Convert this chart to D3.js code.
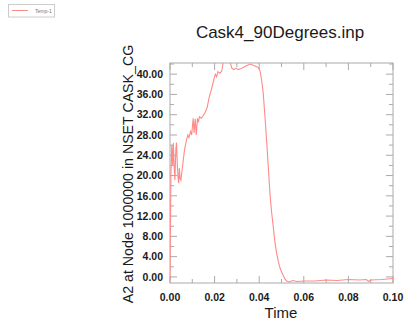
<!DOCTYPE html>
<html><head><meta charset="utf-8">
<script src="https://cdn.jsdelivr.net/npm/d3@7/dist/d3.min.js"></script>
<style>body{margin:0;background:#fff;}svg{display:block;}</style>
</head><body>
<svg id="c" width="409" height="328"></svg>
<script>
const times = [0.0000,0.0004,0.0008,0.0012,0.0015,0.0019,0.0022,0.0026,0.0029,0.0033,0.0036,0.0039,0.0042,0.0045,0.0049,0.0054,0.0058,0.0065,0.0071,0.0080,0.0085,0.0092,0.0097,0.0104,0.0108,0.0113,0.0118,0.0123,0.0127,0.0132,0.0140,0.0149,0.0158,0.0167,0.0176,0.0186,0.0194,0.0203,0.0209,0.0215,0.0224,0.0232,0.0238,0.0245,0.0254,0.0262,0.0269,0.0277,0.0287,0.0296,0.0306,0.0318,0.0329,0.0345,0.0359,0.0370,0.0381,0.0396,0.0404,0.0411,0.0418,0.0426,0.0434,0.0441,0.0448,0.0455,0.0463,0.0470,0.0478,0.0486,0.0493,0.0500,0.0508,0.0515,0.0523,0.0535,0.0550,0.0570,0.0600,0.0650,0.0700,0.0750,0.0800,0.0850,0.0880,0.0890,0.0900,0.0950,0.1000];
const temp1 = [-0.5,20.0,26.0,22.0,26.4,21.5,19.1,25.0,26.5,22.0,19.5,18.5,21.5,19.5,19.1,21.0,22.5,25.0,26.4,28.0,27.5,28.7,28.0,31.3,28.4,31.2,28.0,31.3,30.5,31.6,31.3,31.8,32.5,33.5,35.5,37.0,38.5,40.0,39.5,40.5,40.2,40.6,42.2,43.0,42.8,42.4,42.5,41.2,40.9,41.2,40.9,41.1,41.3,41.7,42.0,41.8,41.6,41.3,40.6,38.8,36.3,31.5,26.4,21.5,16.6,13.0,9.9,7.0,4.7,3.0,1.8,1.0,0.3,-0.4,-0.8,-1.0,-0.7,-0.9,-0.8,-0.8,-0.6,-0.7,-0.5,-0.6,-0.5,-0.9,-0.6,-0.5,-0.3];
const xTicks = [0.00,0.02,0.04,0.06,0.08,0.10];
const yTicks = [0,4,8,12,16,20,24,28,32,36,40];
const title = "Cask4_90Degrees.inp";
const xTitle = "Time";
const yTitle = "A2 at Node 1000000 in NSET CASK_CG";
const seriesName = "Temp-1";

const svg = d3.select("#c");
const L=170,R=393,T=63,B=283;
const x = d3.scaleLinear().domain([0,0.1]).range([L,R]);
const y = d3.scaleLinear().domain([-1.2,42.2]).range([B,T]);
const axisCol="#aaa", txt="#1a1a1a", font="'Liberation Sans', Arial, sans-serif";
const lineCol="#ff8a8a";

// frame
svg.append("rect").attr("x",L).attr("y",T).attr("width",R-L).attr("height",B-T)
  .attr("fill","none").attr("stroke",axisCol).attr("stroke-width",1);

const xMinor = d3.range(0,0.1001,0.01);
const yMinor = d3.range(0,42.01,2);
function xt(sel, inward, ypos){
  sel.selectAll(null).data(xMinor).enter().append("line")
   .attr("x1",d=>x(d)).attr("x2",d=>x(d)).attr("y1",ypos)
   .attr("y2",(d,i)=>ypos+inward*(i%2===0?7:4))
   .attr("stroke",axisCol);
}
xt(svg.append("g"),-1,B); xt(svg.append("g"),1,T);
function yt(sel, inward, xpos){
  sel.selectAll(null).data(yMinor).enter().append("line")
   .attr("y1",d=>y(d)).attr("y2",d=>y(d)).attr("x1",xpos)
   .attr("x2",(d,i)=>xpos+inward*(i%2===0?7:4))
   .attr("stroke",axisCol);
}
yt(svg.append("g"),1,L); yt(svg.append("g"),-1,R);

// tick labels
svg.append("g").selectAll("text").data(xTicks).enter().append("text")
  .attr("x",d=>x(d)).attr("y",301).attr("text-anchor","middle")
  .attr("font-family",font).attr("font-size",10.5).attr("font-weight","bold").attr("fill",txt)
  .text(d=>d.toFixed(2));
svg.append("g").selectAll("text").data(yTicks).enter().append("text")
  .attr("x",163).attr("y",d=>y(d)).attr("dy","0.36em").attr("text-anchor","end")
  .attr("font-family",font).attr("font-size",10.5).attr("font-weight","bold").attr("fill",txt)
  .text(d=>d.toFixed(2));

// titles
svg.append("text").attr("x",280).attr("y",38).attr("text-anchor","middle")
  .attr("font-family",font).attr("font-size",17).attr("fill",txt).text(title);
svg.append("text").attr("x",281).attr("y",318).attr("text-anchor","middle")
  .attr("font-family",font).attr("font-size",15).attr("fill",txt).text(xTitle);
svg.append("text").attr("transform","translate(133,174) rotate(-90)").attr("text-anchor","middle")
  .attr("font-family",font).attr("font-size",14.2).attr("fill",txt).text(yTitle);

// clip & line
svg.append("clipPath").attr("id","clp").append("rect").attr("x",L).attr("y",T).attr("width",R-L).attr("height",B-T);
const line = d3.line().x((d,i)=>x(times[i])).y(d=>y(d));
svg.append("path").datum(temp1).attr("d",line).attr("clip-path","url(#clp)")
  .attr("fill","none").attr("stroke",lineCol).attr("stroke-width",1.1);

// legend
const lg = svg.append("g");
lg.append("rect").attr("x",8.5).attr("y",4.5).attr("width",46).attr("height",12.5)
  .attr("fill","#fff").attr("stroke","#ccc");
lg.append("line").attr("x1",12).attr("x2",28).attr("y1",10.5).attr("y2",10.5)
  .attr("stroke",lineCol).attr("stroke-width",1);
lg.append("text").attr("x",35).attr("y",12.5).attr("font-family",font).attr("font-size",5)
  .attr("fill","#777").text(seriesName);
</script>
</body></html>
